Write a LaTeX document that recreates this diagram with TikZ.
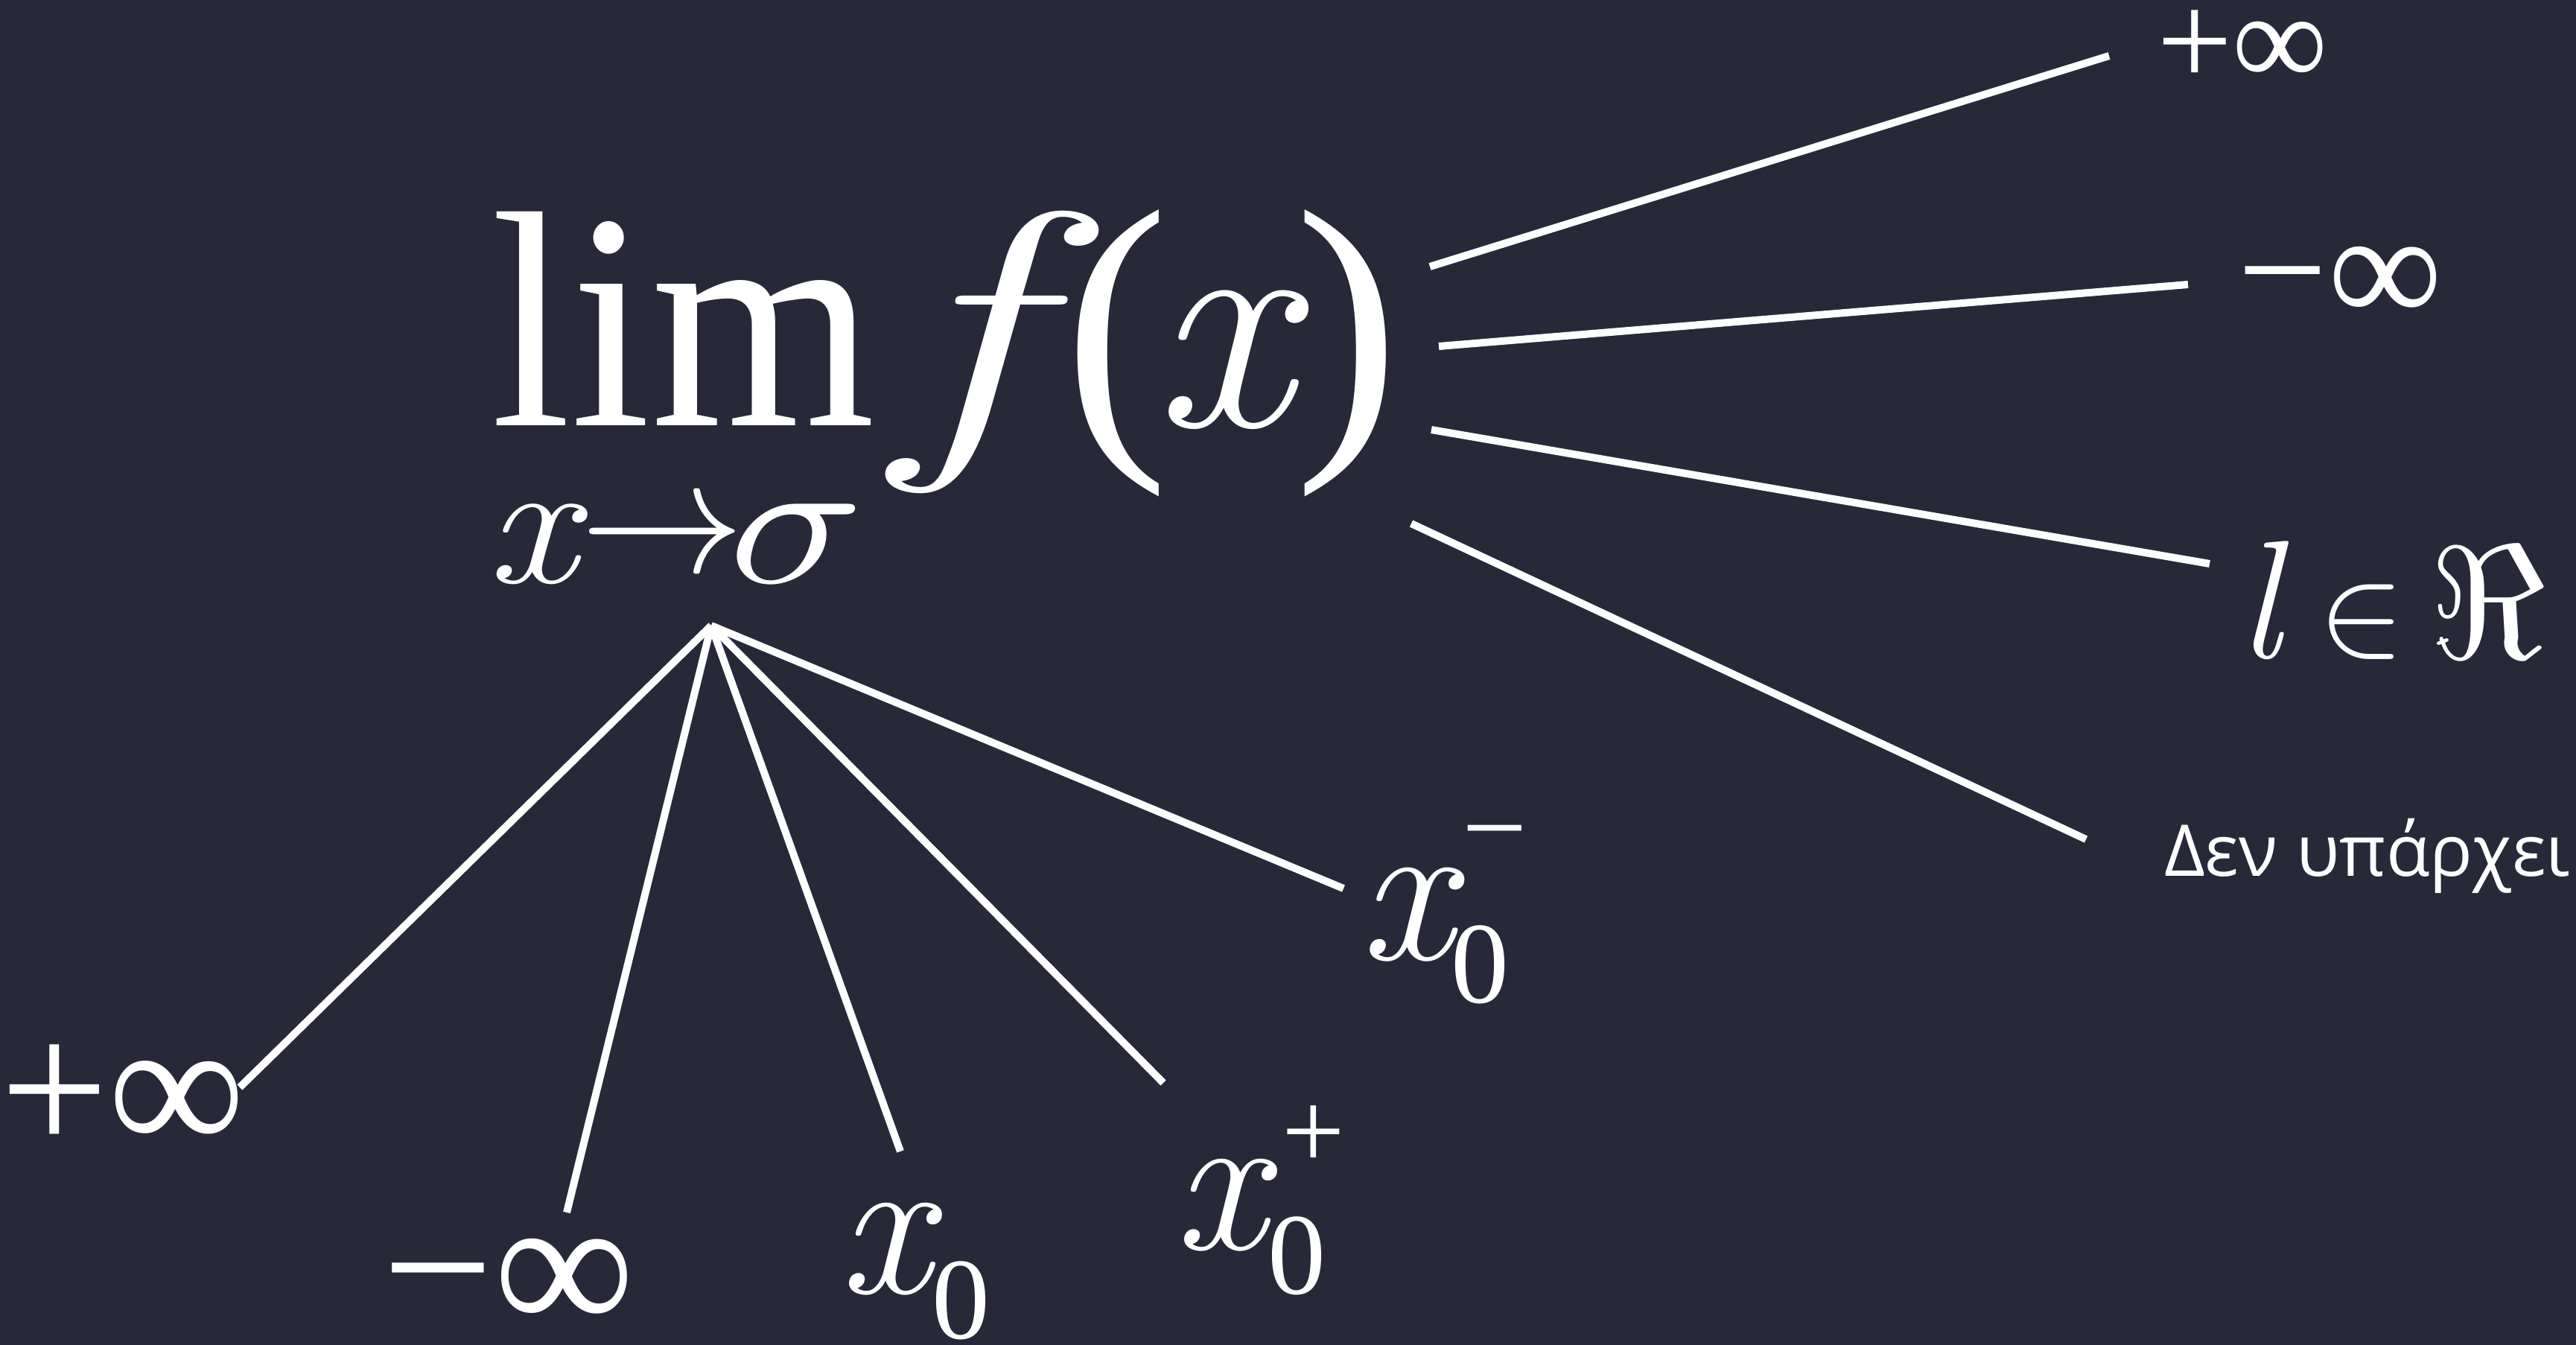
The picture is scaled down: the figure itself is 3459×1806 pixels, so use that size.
\documentclass[tikz,border=0pt]{standalone}
\usepackage{fontspec}
\usepackage{graphicx}
\setmainfont{Liberation Serif}
\newfontfamily\grk{Open Sans}
\newfontfamily\lm{Latin Modern Roman}
\definecolor{bg}{HTML}{272939}
\tikzset{
  lbl/.style={inner sep=0pt, outer sep=0pt, text=white},
  ln/.style={draw=white, line width=10pt}
}
\newcommand\fs[1]{\fontsize{#1}{#1}\selectfont}
\newcommand\itx[1]{{\lm\itshape #1}}
\begin{document}
\begin{tikzpicture}[x=1pt,y=-1pt]
\fill[bg] (0,0) rectangle (3459,1806);
\useasboundingbox (0,0) rectangle (3459,1806);

% main expression
\node[lbl, anchor=base west] (lim) at (659,571) {\fs{414}\scalebox{0.935}[1]{lim}};
\node[lbl] (ff) at (1296,473) {\fs{418}\scalebox{1.45}[1]{\itx{f}}};
\node[lbl] (lp) at (1499,474) {\fs{425}(};
\node[lbl] (xx) at (1642,483) {\fs{414}\itx{x}};
\node[lbl] (rp) at (1809,474) {\fs{425})};
% subscript x -> sigma
\node[lbl] (sx) at (714,731) {\fs{240}\scalebox{1.12}[1]{\itx{x}}};
\node[lbl] (sar) at (889,728) {\scalebox{22}{$\rightarrow$}};
\node[lbl] (ssg) at (1070,730) {\scalebox{30}[24.5]{$\sigma$}};

% right results
\node[lbl] (pinfR) at (3011,65) {\fs{180}+∞};
\node[lbl] (minfR) at (3142,383) {\fs{215}−∞};
\node[lbl] (ll) at (3034,806) {\fs{226}\itx{l}};
\node[lbl] (inn) at (3171,835) {\scalebox{17.3}{$\in$}};
\node[lbl] (re) at (3340,809) {\scalebox{21.5}{$\Re$}};
\node[lbl, anchor=base west] (dne) at (2906,1176) {\grk\fs{96}Δεν υπάρχει};

% bottom labels
\node[lbl] (pinfL) at (165,1476) {\fs{258}+∞};
\node[lbl] (minfL) at (683,1727) {\fs{265}−∞};
% x_0
\node[lbl] (xa) at (1188,1677) {\fs{275}\itx{x}};
\node[lbl] (za) at (1290,1746) {\fs{156}0};
% x_0^+
\node[lbl] (xb) at (1638,1618) {\fs{275}\itx{x}};
\node[lbl] (zb) at (1741,1686) {\fs{156}0};
\node[lbl] (pb) at (1764,1527) {\fs{150}+};
% x_0^-
\node[lbl] (xc) at (1888,1228) {\fs{280}\itx{x}};
\node[lbl] (zc) at (1987,1295) {\fs{156}0};
\node[lbl] (mc) at (2007,1136) {\fs{155}−};

% connector end points
\coordinate (a1) at (1920,358);  \coordinate (b1) at (2832,75);
\coordinate (a2) at (1932,465);  \coordinate (b2) at (2938,382);
\coordinate (a3) at (1922,577);  \coordinate (b3) at (2967,757);
\coordinate (a4) at (1895,703);  \coordinate (b4) at (2801,1127);
\coordinate (apex) at (955,840);
\coordinate (c1) at (322,1460);
\coordinate (c2) at (761,1628);
\coordinate (c3) at (1209,1546);
\coordinate (c4) at (1562,1454);
\coordinate (c5) at (1804,1193);

\draw[ln] (a1) -- (b1);
\draw[ln] (a2) -- (b2);
\draw[ln] (a3) -- (b3);
\draw[ln] (a4) -- (b4);
\draw[ln] (apex) -- (c1);
\draw[ln] (apex) -- (c2);
\draw[ln] (apex) -- (c3);
\draw[ln] (apex) -- (c4);
\draw[ln] (apex) -- (c5);
\end{tikzpicture}
\end{document}
